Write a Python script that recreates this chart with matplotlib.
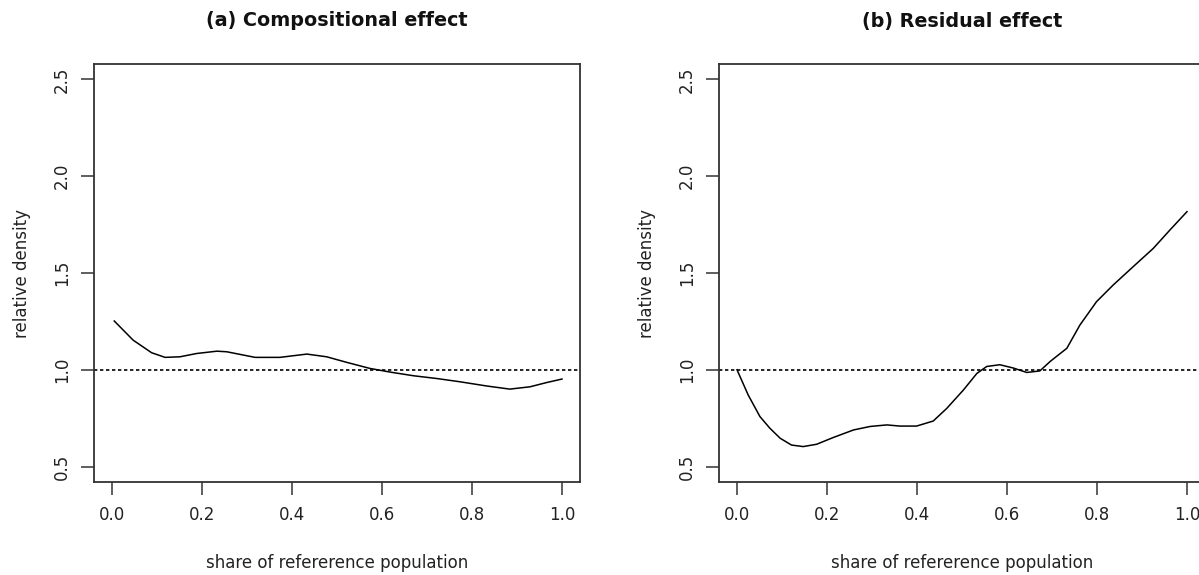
import numpy as np
import matplotlib
matplotlib.use("Agg")
import matplotlib.pyplot as plt

plt.rcParams['font.family'] = ['DejaVu Sans']

# (a) compositional effect
share_a = [0.005, 0.047, 0.088, 0.118, 0.151, 0.188, 0.233, 0.255, 0.318, 0.373,
           0.433, 0.477, 0.522, 0.573, 0.618, 0.670, 0.721, 0.773, 0.833, 0.884,
           0.929, 0.966, 1.0]
dens_a = [1.252, 1.153, 1.088, 1.064, 1.067, 1.084, 1.096, 1.093, 1.064, 1.064,
          1.081, 1.067, 1.038, 1.007, 0.988, 0.969, 0.955, 0.938, 0.916, 0.900,
          0.912, 0.934, 0.952]

# (b) residual effect
share_b = [0.0, 0.025, 0.051, 0.073, 0.096, 0.121, 0.147, 0.177, 0.214, 0.259,
           0.296, 0.333, 0.362, 0.399, 0.436, 0.466, 0.503, 0.533, 0.555, 0.584,
           0.614, 0.644, 0.673, 0.696, 0.733, 0.762, 0.799, 0.836, 0.881, 0.925,
           0.962, 1.0]
dens_b = [1.0, 0.869, 0.758, 0.698, 0.646, 0.611, 0.603, 0.615, 0.650, 0.689,
          0.707, 0.715, 0.709, 0.709, 0.735, 0.800, 0.895, 0.981, 1.017, 1.026,
          1.009, 0.986, 0.994, 1.043, 1.111, 1.231, 1.352, 1.438, 1.534, 1.627,
          1.722, 1.817]

titles = ['(a) Compositional effect', '(b) Residual effect']
xticks = [0.0, 0.2, 0.4, 0.6, 0.8, 1.0]
yticks = [0.5, 1.0, 1.5, 2.0, 2.5]

W, H = 1199, 575
fig = plt.figure(figsize=(W / 100, H / 100), dpi=100)

frame_col = '#333333'
text_col = '#222222'
panels = [(94, share_a, dens_a), (719, share_b, dens_b)]
for i, (left_px, xs, ys) in enumerate(panels):
    ax = fig.add_axes([left_px / W, (H - 482) / H, 486 / W, 418 / H])
    ax.plot(xs, ys, color='black', lw=1.1)
    ax.axhline(1.0, color='black', lw=1.2, linestyle=(0, (2, 1.6)))
    ax.set_xlim(-0.04, 1.04)
    ax.set_ylim(0.42, 2.58)
    ax.set_xticks(xticks)
    ax.set_xticklabels(['%.1f' % v for v in xticks])
    ax.set_yticks(yticks)
    ax.set_yticklabels(['%.1f' % v for v in yticks], rotation=90, va='center')
    ax.tick_params(direction='out', length=9.4, width=1.1, color=frame_col,
                   labelsize=12, labelcolor=text_col)
    ax.tick_params(axis='x', pad=8)
    ax.tick_params(axis='y', pad=7)
    for s in ax.spines.values():
        s.set_color(frame_col)
        s.set_linewidth(1.3)
    ax.set_xlabel('share of refererence population', fontsize=12, color=text_col)
    ax.xaxis.set_label_coords(0.5, (482 - 563) / 418)
    ax.xaxis.label.set_va('center')
    ax.set_ylabel('relative density', fontsize=12, color=text_col)
    ax.yaxis.set_label_coords(-72 / 486, 0.5)
    ax.yaxis.label.set_va('center')
    ax.text(0.5, (482 - 21) / 418, titles[i], transform=ax.transAxes,
            ha='center', va='center', fontsize=13.8, fontweight='bold',
            color='#111111')

fig.savefig('out.png', dpi=100)
